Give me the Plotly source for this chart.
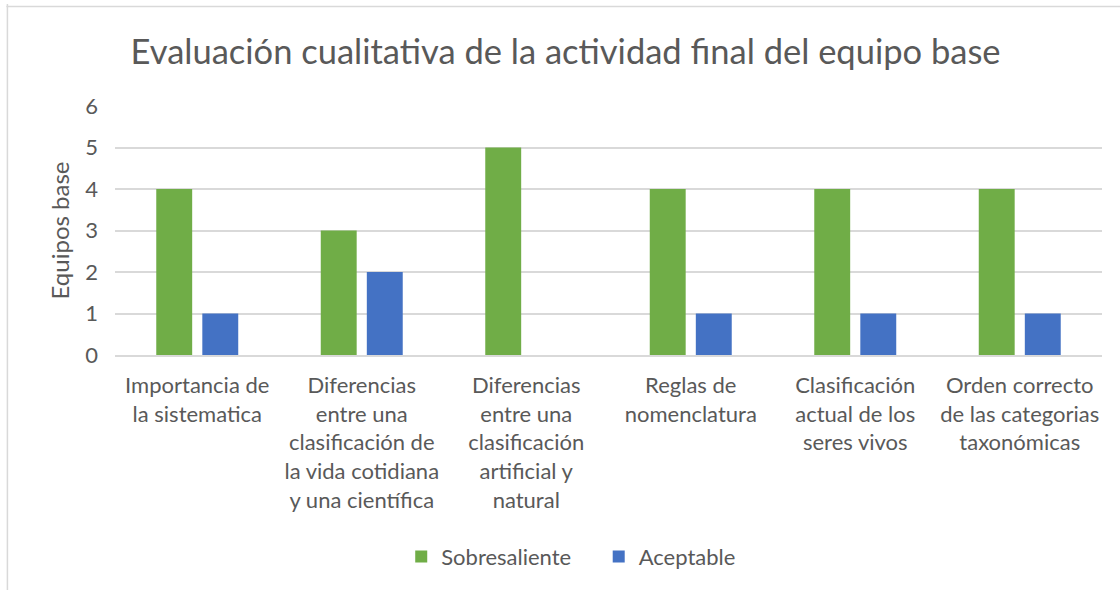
import plotly.graph_objects as go

# Data
categorias = [
    "Importancia de<br>la sistematica",
    "Diferencias<br>entre una<br>clasificación de<br>la vida cotidiana<br>y una científica",
    "Diferencias<br>entre una<br>clasificación<br>artificial y<br>natural",
    "Reglas de<br>nomenclatura",
    "Clasificación<br>actual de los<br>seres vivos",
    "Orden correcto<br>de las categorias<br>taxonómicas",
]
sobresaliente = [4, 3, 5, 4, 4, 4]
aceptable = [1, 2, 0, 1, 1, 1]
y_ticks = [0, 1, 2, 3, 4, 5, 6]

FONT = "Lato, 'Open Sans', sans-serif"
GRIS = "#595959"

fig = go.Figure()
fig.add_trace(go.Bar(name="Sobresaliente\u00a0\u00a0\u00a0\u00a0", x=categorias, y=sobresaliente,
                     marker_color="#70ad47", marker_line_width=0))
fig.add_trace(go.Bar(name="Aceptable", x=categorias, y=aceptable,
                     marker_color="#4472c4", marker_line_width=0))

fig.update_layout(
    width=1120, height=590,
    paper_bgcolor="white", plot_bgcolor="white",
    font=dict(family=FONT, color=GRIS, size=22),
    title=dict(text="Evaluación cualitativa de la actividad final del equipo base",
               x=0.505, xanchor="center", y=0.912, yanchor="middle",
               font=dict(size=34.5, color=GRIS, family=FONT)),
    barmode="group", bargap=0.44, bargroupgap=0.22,
    margin=dict(l=115, r=18, t=106, b=235),
    legend=dict(orientation="h", x=0.29, xanchor="left", y=-0.81, yanchor="middle",
                font=dict(size=22, color=GRIS), itemsizing="constant",
                traceorder="normal", itemwidth=30),
    showlegend=True,
)
fig.update_yaxes(range=[0, 6], tickvals=y_ticks, showgrid=True, gridcolor="#d9d9d9",
                 gridwidth=1.5, zeroline=False, showline=False, ticks="",
                 ticklabelstandoff=16, tickfont=dict(size=22),
                 title=dict(text="Equipos base", font=dict(size=24, color=GRIS), standoff=8))
fig.update_xaxes(showline=True, linecolor="#d9d9d9", linewidth=1.5, ticks="",
                 tickfont=dict(size=22), ticklabelstandoff=10)

# chart frame (visible on top and left edges)
fig.add_shape(type="line", xref="paper", yref="paper", x0=-0.11, x1=1.02, y0=1.40, y1=1.40,
              line=dict(color="#d9d9d9", width=1.5))
fig.add_shape(type="line", xref="paper", yref="paper", x0=-0.109, x1=-0.109, y0=1.41, y1=-0.95,
              line=dict(color="#d9d9d9", width=1.5))

fig.write_html("out.html", post_script="document.body.style.margin='0';",
               config={"displayModeBar": False})
